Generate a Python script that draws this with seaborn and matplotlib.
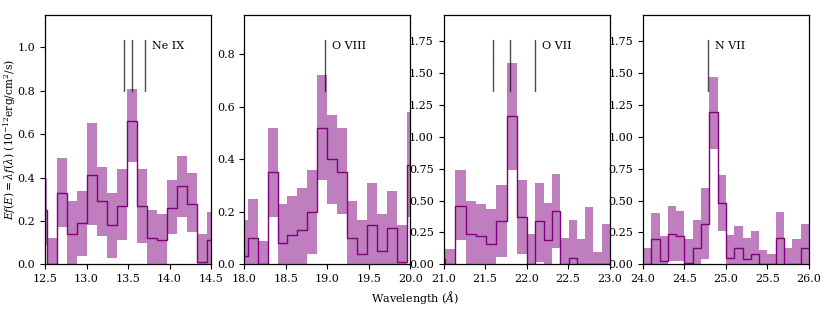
import numpy as np
import pandas as pd
import seaborn as sns
import matplotlib
matplotlib.use('Agg')
import matplotlib.pyplot as plt

# bin edges (Angstrom) and flux bands per panel
ne9_edges = [12.405, 12.525, 12.645, 12.765, 12.885, 13.005, 13.125, 13.245, 13.365, 13.485,
             13.605, 13.725, 13.845, 13.965, 14.085, 14.205, 14.325, 14.445, 14.565]
ne9_top = [0.40, 0.12, 0.49, 0.29, 0.34, 0.65, 0.45, 0.33, 0.44, 0.81, 0.44, 0.25, 0.23, 0.39, 0.50, 0.42, 0.14, 0.24]
ne9_mid = [0.25, 0.00, 0.33, 0.14, 0.19, 0.41, 0.29, 0.18, 0.27, 0.66, 0.27, 0.12, 0.11, 0.26, 0.36, 0.28, 0.01, 0.11]
ne9_low = [0.09, 0.00, 0.17, 0.00, 0.04, 0.18, 0.13, 0.03, 0.11, 0.47, 0.10, 0.00, 0.00, 0.14, 0.22, 0.15, 0.00, 0.00]

o8_edges = [17.92, 18.04, 18.16, 18.28, 18.40, 18.52, 18.64, 18.76, 18.88, 19.00,
            19.12, 19.24, 19.36, 19.48, 19.60, 19.72, 19.84, 19.96, 20.08]
o8_top = [0.17, 0.25, 0.09, 0.52, 0.23, 0.26, 0.29, 0.36, 0.72, 0.57, 0.52, 0.24, 0.17, 0.31, 0.19, 0.28, 0.15, 0.58]
o8_mid = [0.03, 0.10, 0.00, 0.35, 0.08, 0.11, 0.13, 0.20, 0.52, 0.40, 0.35, 0.10, 0.04, 0.15, 0.05, 0.14, 0.01, 0.38]
o8_low = [0.00, 0.00, 0.00, 0.18, 0.00, 0.00, 0.00, 0.04, 0.32, 0.23, 0.19, 0.00, 0.00, 0.00, 0.00, 0.00, 0.00, 0.18]

o7_edges = [20.897, 21.020, 21.143, 21.266, 21.389, 21.512, 21.635, 21.758, 21.881, 22.005,
            22.105, 22.205, 22.305, 22.405, 22.505, 22.605, 22.705, 22.805, 22.905, 23.005]
o7_top = [0.26, 0.12, 0.74, 0.50, 0.47, 0.43, 0.62, 1.58, 0.66, 0.24, 0.64, 0.48, 0.71, 0.21, 0.35, 0.20, 0.45, 0.10, 0.32]
o7_mid = [0.04, 0.00, 0.46, 0.24, 0.22, 0.16, 0.34, 1.16, 0.37, 0.00, 0.34, 0.19, 0.42, 0.00, 0.05, 0.00, 0.00, 0.00, 0.00]
o7_low = [0.00, 0.00, 0.19, 0.00, 0.00, 0.00, 0.06, 0.74, 0.08, 0.00, 0.02, 0.00, 0.13, 0.00, 0.00, 0.00, 0.00, 0.00, 0.00]

n7_edges = [24.0, 24.1, 24.2, 24.3, 24.4, 24.5, 24.6, 24.7, 24.8, 24.9, 25.0,
            25.1, 25.2, 25.3, 25.4, 25.5, 25.6, 25.7, 25.8, 25.9, 26.0]
n7_top = [0.13, 0.40, 0.22, 0.46, 0.42, 0.20, 0.35, 0.60, 1.47, 0.70, 0.23, 0.30, 0.21, 0.26, 0.11, 0.08, 0.41, 0.13, 0.20, 0.32]
n7_mid = [0.00, 0.20, 0.03, 0.24, 0.22, 0.01, 0.13, 0.32, 1.19, 0.48, 0.05, 0.13, 0.04, 0.08, 0.00, 0.00, 0.21, 0.00, 0.00, 0.13]
n7_low = [0.00, 0.00, 0.00, 0.03, 0.03, 0.00, 0.00, 0.04, 0.90, 0.26, 0.00, 0.00, 0.00, 0.00, 0.00, 0.00, 0.00, 0.00, 0.00, 0.00]

# line labels and rest wavelengths
ion_names = ['Ne IX', 'O VIII', 'O VII', 'N VII']
ion_lines = [[13.45, 13.55, 13.70], [18.97], [21.60, 21.80, 22.10], [24.78]]
line_bottom = [0.80, 0.66, 1.36, 1.36]
label_x = [13.79, 19.06, 22.18, 24.87]

xlims = [(12.5, 14.5), (18.0, 20.0), (21.0, 23.0), (24.0, 26.0)]
ylims = [1.15, 0.95, 1.954, 1.954]
yticks = [np.arange(0, 1.01, 0.2), np.arange(0, 0.81, 0.2), np.arange(0, 1.76, 0.25), np.arange(0, 1.76, 0.25)]

panels = [(ne9_edges, ne9_top, ne9_mid, ne9_low),
          (o8_edges, o8_top, o8_mid, o8_low),
          (o7_edges, o7_top, o7_mid, o7_low),
          (n7_edges, n7_top, n7_mid, n7_low)]

sns.set_style('ticks', rc={'axes.edgecolor': 'black', 'text.color': 'black',
                           'axes.labelcolor': 'black', 'xtick.color': 'black', 'ytick.color': 'black',
                           'xtick.direction': 'out', 'ytick.direction': 'out'})
plt.rcParams['font.family'] = ['DejaVu Serif']
plt.rcParams['mathtext.fontset'] = 'dejavuserif'
plt.rcParams['font.size'] = 8
plt.rcParams['xtick.labelsize'] = 8
plt.rcParams['ytick.labelsize'] = 8

fig, axes = plt.subplots(1, 4, figsize=(8.3, 3.11), dpi=100)
plt.subplots_adjust(left=0.0542, right=0.9747, bottom=0.150, top=0.952, wspace=0.2)

for i, ax in enumerate(axes):
    edges, top, mid, low = panels[i]
    # repeat last value so the final bin closes at the last edge
    top_s = list(top) + [top[-1]]
    mid_s = list(mid) + [mid[-1]]
    low_s = list(low) + [low[-1]]
    ax.fill_between(edges, low_s, top_s, step='post', color='purple', alpha=0.5, linewidth=0)
    df = pd.DataFrame({'wl': edges, 'flux': mid_s})
    sns.lineplot(data=df, x='wl', y='flux', ax=ax, drawstyle='steps-post', color='purple', lw=1.0)

    ytop = ylims[i]
    for lam in ion_lines[i]:
        ax.plot([lam, lam], [line_bottom[i], 0.9 * ytop], color='k', alpha=0.7, lw=1.0)
    ax.text(label_x[i], 0.875 * ytop, ion_names[i], va='center', ha='left', fontsize=8)

    ax.set_xlim(*xlims[i])
    ax.set_ylim(0, ytop)
    ax.set_xticks(np.arange(xlims[i][0], xlims[i][1] + 0.01, 0.5))
    ax.set_yticks(yticks[i])
    ax.set_xlabel('')
    ax.set_ylabel('')
    for s in ax.spines.values():
        s.set_visible(True)
        s.set_linewidth(0.9)

axes[0].set_ylabel(r'$Ef(E) = \lambda f(\lambda)$ ($10^{-12}$erg/cm$^2$/s)', fontsize=7.7)
axes[0].yaxis.set_label_coords(-0.16, 0.5)
fig.text(0.5, 0.045, r'Wavelength ($\AA$)', ha='center', va='center', fontsize=8)

fig.savefig('out.png', dpi=100)
